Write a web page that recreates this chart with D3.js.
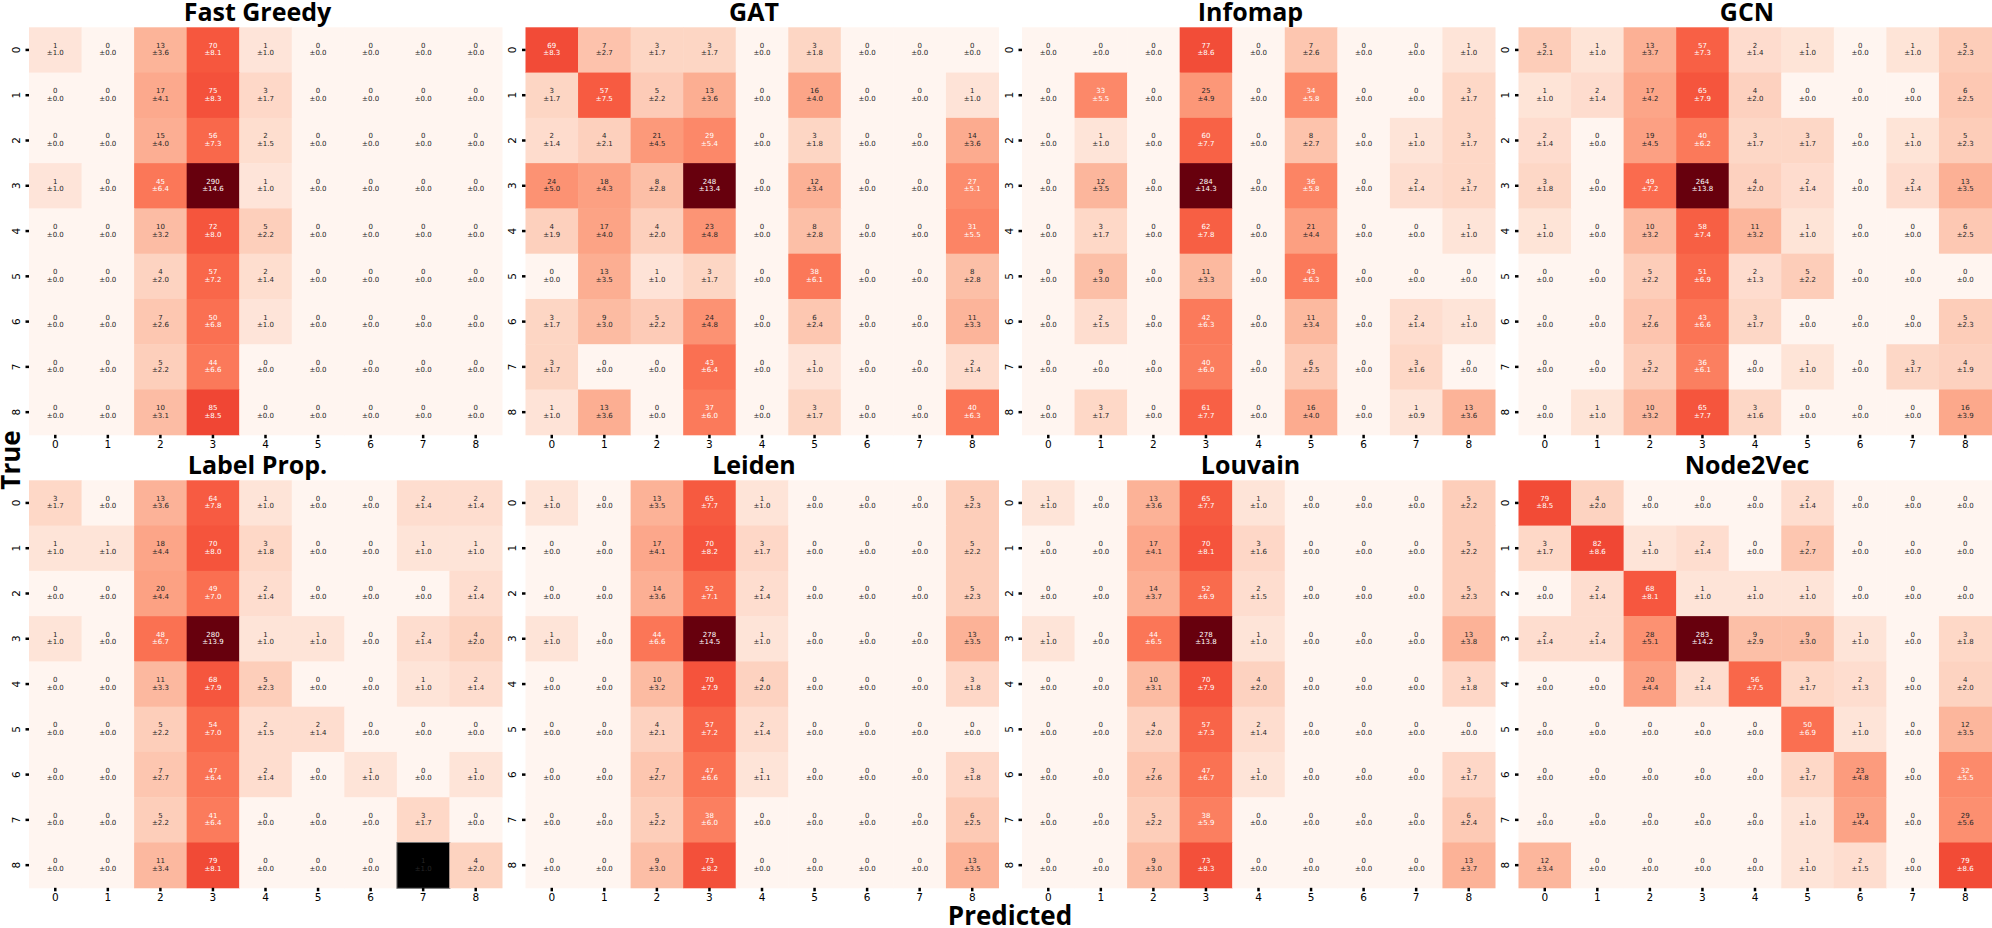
<!DOCTYPE html>
<html>
<head>
<meta charset="utf-8">
<script src="https://cdn.jsdelivr.net/npm/d3@7"></script>
<style>
  body { margin: 0; background: #fff; }
  text { font-family: "DejaVu Sans", sans-serif; }
  .title, .axis-title { font-family: "Open Sans", "Noto Sans", sans-serif; font-weight: bold; }
</style>
</head>
<body>
<svg id="chart"></svg>
<script>

// class labels on both axes
const classes = [0, 1, 2, 3, 4, 5, 6, 7, 8];
const methodNames = ['Fast Greedy', 'GAT', 'Infomap', 'GCN', 'Label Prop.', 'Leiden', 'Louvain', 'Node2Vec'];

const fastGreedyMean = [
  [1, 0, 13, 70, 1, 0, 0, 0, 0],
  [0, 0, 17, 75, 3, 0, 0, 0, 0],
  [0, 0, 15, 56, 2, 0, 0, 0, 0],
  [1, 0, 45, 290, 1, 0, 0, 0, 0],
  [0, 0, 10, 72, 5, 0, 0, 0, 0],
  [0, 0, 4, 57, 2, 0, 0, 0, 0],
  [0, 0, 7, 50, 1, 0, 0, 0, 0],
  [0, 0, 5, 44, 0, 0, 0, 0, 0],
  [0, 0, 10, 85, 0, 0, 0, 0, 0]
];
const fastGreedyStd = [
  [1.0, 0, 3.6, 8.1, 1.0, 0, 0, 0, 0],
  [0, 0, 4.1, 8.3, 1.7, 0, 0, 0, 0],
  [0, 0, 4.0, 7.3, 1.5, 0, 0, 0, 0],
  [1.0, 0, 6.4, 14.6, 1.0, 0, 0, 0, 0],
  [0, 0, 3.2, 8.0, 2.2, 0, 0, 0, 0],
  [0, 0, 2.0, 7.2, 1.4, 0, 0, 0, 0],
  [0, 0, 2.6, 6.8, 1.0, 0, 0, 0, 0],
  [0, 0, 2.2, 6.6, 0, 0, 0, 0, 0],
  [0, 0, 3.1, 8.5, 0, 0, 0, 0, 0]
];

const gatMean = [
  [69, 7, 3, 3, 0, 3, 0, 0, 0],
  [3, 57, 5, 13, 0, 16, 0, 0, 1],
  [2, 4, 21, 29, 0, 3, 0, 0, 14],
  [24, 18, 8, 248, 0, 12, 0, 0, 27],
  [4, 17, 4, 23, 0, 8, 0, 0, 31],
  [0, 13, 1, 3, 0, 38, 0, 0, 8],
  [3, 9, 5, 24, 0, 6, 0, 0, 11],
  [3, 0, 0, 43, 0, 1, 0, 0, 2],
  [1, 13, 0, 37, 0, 3, 0, 0, 40]
];
const gatStd = [
  [8.3, 2.7, 1.7, 1.7, 0, 1.8, 0, 0, 0],
  [1.7, 7.5, 2.2, 3.6, 0, 4.0, 0, 0, 1.0],
  [1.4, 2.1, 4.5, 5.4, 0, 1.8, 0, 0, 3.6],
  [5.0, 4.3, 2.8, 13.4, 0, 3.4, 0, 0, 5.1],
  [1.9, 4.0, 2.0, 4.8, 0, 2.8, 0, 0, 5.5],
  [0, 3.5, 1.0, 1.7, 0, 6.1, 0, 0, 2.8],
  [1.7, 3.0, 2.2, 4.8, 0, 2.4, 0, 0, 3.3],
  [1.7, 0, 0, 6.4, 0, 1.0, 0, 0, 1.4],
  [1.0, 3.6, 0, 6.0, 0, 1.7, 0, 0, 6.3]
];

const infomapMean = [
  [0, 0, 0, 77, 0, 7, 0, 0, 1],
  [0, 33, 0, 25, 0, 34, 0, 0, 3],
  [0, 1, 0, 60, 0, 8, 0, 1, 3],
  [0, 12, 0, 284, 0, 36, 0, 2, 3],
  [0, 3, 0, 62, 0, 21, 0, 0, 1],
  [0, 9, 0, 11, 0, 43, 0, 0, 0],
  [0, 2, 0, 42, 0, 11, 0, 2, 1],
  [0, 0, 0, 40, 0, 6, 0, 3, 0],
  [0, 3, 0, 61, 0, 16, 0, 1, 13]
];
const infomapStd = [
  [0, 0, 0, 8.6, 0, 2.6, 0, 0, 1.0],
  [0, 5.5, 0, 4.9, 0, 5.8, 0, 0, 1.7],
  [0, 1.0, 0, 7.7, 0, 2.7, 0, 1.0, 1.7],
  [0, 3.5, 0, 14.3, 0, 5.8, 0, 1.4, 1.7],
  [0, 1.7, 0, 7.8, 0, 4.4, 0, 0, 1.0],
  [0, 3.0, 0, 3.3, 0, 6.3, 0, 0, 0],
  [0, 1.5, 0, 6.3, 0, 3.4, 0, 1.4, 1.0],
  [0, 0, 0, 6.0, 0, 2.5, 0, 1.6, 0],
  [0, 1.7, 0, 7.7, 0, 4.0, 0, 0.9, 3.6]
];

const gcnMean = [
  [5, 1, 13, 57, 2, 1, 0, 1, 5],
  [1, 2, 17, 65, 4, 0, 0, 0, 6],
  [2, 0, 19, 40, 3, 3, 0, 1, 5],
  [3, 0, 49, 264, 4, 2, 0, 2, 13],
  [1, 0, 10, 58, 11, 1, 0, 0, 6],
  [0, 0, 5, 51, 2, 5, 0, 0, 0],
  [0, 0, 7, 43, 3, 0, 0, 0, 5],
  [0, 0, 5, 36, 0, 1, 0, 3, 4],
  [0, 1, 10, 65, 3, 0, 0, 0, 16]
];
const gcnStd = [
  [2.1, 1.0, 3.7, 7.3, 1.4, 1.0, 0, 1.0, 2.3],
  [1.0, 1.4, 4.2, 7.9, 2.0, 0, 0, 0, 2.5],
  [1.4, 0, 4.5, 6.2, 1.7, 1.7, 0, 1.0, 2.3],
  [1.8, 0, 7.2, 13.8, 2.0, 1.4, 0, 1.4, 3.5],
  [1.0, 0, 3.2, 7.4, 3.2, 1.0, 0, 0, 2.5],
  [0, 0, 2.2, 6.9, 1.3, 2.2, 0, 0, 0],
  [0, 0, 2.6, 6.6, 1.7, 0, 0, 0, 2.3],
  [0, 0, 2.2, 6.1, 0, 1.0, 0, 1.7, 1.9],
  [0, 1.0, 3.2, 7.7, 1.6, 0, 0, 0, 3.9]
];

const labelPropMean = [
  [3, 0, 13, 64, 1, 0, 0, 2, 2],
  [1, 1, 18, 70, 3, 0, 0, 1, 1],
  [0, 0, 20, 49, 2, 0, 0, 0, 2],
  [1, 0, 48, 280, 1, 1, 0, 2, 4],
  [0, 0, 11, 68, 5, 0, 0, 1, 2],
  [0, 0, 5, 54, 2, 2, 0, 0, 0],
  [0, 0, 7, 47, 2, 0, 1, 0, 1],
  [0, 0, 5, 41, 0, 0, 0, 3, 0],
  [0, 0, 11, 79, 0, 0, 0, 1, 4]
];
const labelPropStd = [
  [1.7, 0, 3.6, 7.8, 1.0, 0, 0, 1.4, 1.4],
  [1.0, 1.0, 4.4, 8.0, 1.8, 0, 0, 1.0, 1.0],
  [0, 0, 4.4, 7.0, 1.4, 0, 0, 0, 1.4],
  [1.0, 0, 6.7, 13.9, 1.0, 1.0, 0, 1.4, 2.0],
  [0, 0, 3.3, 7.9, 2.3, 0, 0, 1.0, 1.4],
  [0, 0, 2.2, 7.0, 1.5, 1.4, 0, 0, 0],
  [0, 0, 2.7, 6.4, 1.4, 0, 1.0, 0, 1.0],
  [0, 0, 2.2, 6.4, 0, 0, 0, 1.7, 0],
  [0, 0, 3.4, 8.1, 0, 0, 0, 1.0, 2.0]
];
// cell drawn in black in the Label Prop. panel [row, col]
const labelPropBlackCells = [[8, 7]];

const leidenMean = [
  [1, 0, 13, 65, 1, 0, 0, 0, 5],
  [0, 0, 17, 70, 3, 0, 0, 0, 5],
  [0, 0, 14, 52, 2, 0, 0, 0, 5],
  [1, 0, 44, 278, 1, 0, 0, 0, 13],
  [0, 0, 10, 70, 4, 0, 0, 0, 3],
  [0, 0, 4, 57, 2, 0, 0, 0, 0],
  [0, 0, 7, 47, 1, 0, 0, 0, 3],
  [0, 0, 5, 38, 0, 0, 0, 0, 6],
  [0, 0, 9, 73, 0, 0, 0, 0, 13]
];
const leidenStd = [
  [1.0, 0, 3.5, 7.7, 1.0, 0, 0, 0, 2.3],
  [0, 0, 4.1, 8.2, 1.7, 0, 0, 0, 2.2],
  [0, 0, 3.6, 7.1, 1.4, 0, 0, 0, 2.3],
  [1.0, 0, 6.6, 14.5, 1.0, 0, 0, 0, 3.5],
  [0, 0, 3.2, 7.9, 2.0, 0, 0, 0, 1.8],
  [0, 0, 2.1, 7.2, 1.4, 0, 0, 0, 0],
  [0, 0, 2.7, 6.6, 1.1, 0, 0, 0, 1.8],
  [0, 0, 2.2, 6.0, 0, 0, 0, 0, 2.5],
  [0, 0, 3.0, 8.2, 0, 0, 0, 0, 3.5]
];

const louvainMean = [
  [1, 0, 13, 65, 1, 0, 0, 0, 5],
  [0, 0, 17, 70, 3, 0, 0, 0, 5],
  [0, 0, 14, 52, 2, 0, 0, 0, 5],
  [1, 0, 44, 278, 1, 0, 0, 0, 13],
  [0, 0, 10, 70, 4, 0, 0, 0, 3],
  [0, 0, 4, 57, 2, 0, 0, 0, 0],
  [0, 0, 7, 47, 1, 0, 0, 0, 3],
  [0, 0, 5, 38, 0, 0, 0, 0, 6],
  [0, 0, 9, 73, 0, 0, 0, 0, 13]
];
const louvainStd = [
  [1.0, 0, 3.6, 7.7, 1.0, 0, 0, 0, 2.2],
  [0, 0, 4.1, 8.1, 1.6, 0, 0, 0, 2.2],
  [0, 0, 3.7, 6.9, 1.5, 0, 0, 0, 2.3],
  [1.0, 0, 6.5, 13.8, 1.0, 0, 0, 0, 3.8],
  [0, 0, 3.1, 7.9, 2.0, 0, 0, 0, 1.8],
  [0, 0, 2.0, 7.3, 1.4, 0, 0, 0, 0],
  [0, 0, 2.6, 6.7, 1.0, 0, 0, 0, 1.7],
  [0, 0, 2.2, 5.9, 0, 0, 0, 0, 2.4],
  [0, 0, 3.0, 8.3, 0, 0, 0, 0, 3.7]
];

const node2vecMean = [
  [79, 4, 0, 0, 0, 2, 0, 0, 0],
  [3, 82, 1, 2, 0, 7, 0, 0, 0],
  [0, 2, 68, 1, 1, 1, 0, 0, 0],
  [2, 2, 28, 283, 9, 9, 1, 0, 3],
  [0, 0, 20, 2, 56, 3, 2, 0, 4],
  [0, 0, 0, 0, 0, 50, 1, 0, 12],
  [0, 0, 0, 0, 0, 3, 23, 0, 32],
  [0, 0, 0, 0, 0, 1, 19, 0, 29],
  [12, 0, 0, 0, 0, 1, 2, 0, 79]
];
const node2vecStd = [
  [8.5, 2.0, 0, 0, 0, 1.4, 0, 0, 0],
  [1.7, 8.6, 1.0, 1.4, 0, 2.7, 0, 0, 0],
  [0, 1.4, 8.1, 1.0, 1.0, 1.0, 0, 0, 0],
  [1.4, 1.4, 5.1, 14.2, 2.9, 3.0, 1.0, 0, 1.8],
  [0, 0, 4.4, 1.4, 7.5, 1.7, 1.3, 0, 2.0],
  [0, 0, 0, 0, 0, 6.9, 1.0, 0, 3.5],
  [0, 0, 0, 0, 0, 1.7, 4.8, 0, 5.5],
  [0, 0, 0, 0, 0, 1.0, 4.4, 0, 5.6],
  [3.4, 0, 0, 0, 0, 1.0, 1.5, 0, 8.6]
];

const panels = [
  { name: methodNames[0], mean: fastGreedyMean, std: fastGreedyStd, black: [] },
  { name: methodNames[1], mean: gatMean, std: gatStd, black: [] },
  { name: methodNames[2], mean: infomapMean, std: infomapStd, black: [] },
  { name: methodNames[3], mean: gcnMean, std: gcnStd, black: [] },
  { name: methodNames[4], mean: labelPropMean, std: labelPropStd, black: labelPropBlackCells },
  { name: methodNames[5], mean: leidenMean, std: leidenStd, black: [] },
  { name: methodNames[6], mean: louvainMean, std: louvainStd, black: [] },
  { name: methodNames[7], mean: node2vecMean, std: node2vecStd, black: [] }
];

const width = 1992, height = 928;
const colX = [29, 525.5, 1022, 1518.5];
const rowY = [27.3, 480.3];
const mapW = 473, mapH = 407.5;

const svg = d3.select('#chart')
  .attr('width', width)
  .attr('height', height);

// seaborn style: light text on dark cells
function textColor(c) {
  const rgb = d3.rgb(c);
  const lin = v => { v = v / 255; return v <= 0.03928 ? v / 12.92 : Math.pow((v + 0.055) / 1.055, 2.4); };
  const lum = 0.2126 * lin(rgb.r) + 0.7152 * lin(rgb.g) + 0.0722 * lin(rgb.b);
  return lum > 0.408 ? '#262626' : '#ffffff';
}

panels.forEach((p, i) => {
  const x0 = colX[i % 4];
  const y0 = rowY[Math.floor(i / 4)];

  const x = d3.scaleBand().domain(classes).range([x0, x0 + mapW]);
  const y = d3.scaleBand().domain(classes).range([y0, y0 + mapH]);

  const vmax = d3.max(p.mean.flat());
  const color = d3.scaleSequentialPow(d3.interpolateReds).exponent(0.42).domain([0, vmax]);

  const cells = [];
  p.mean.forEach((row, r) => row.forEach((v, c) => {
    const isBlack = p.black.some(b => b[0] === r && b[1] === c);
    cells.push({ r, c, v, s: p.std[r][c], black: isBlack });
  }));

  const g = svg.append('g');

  g.selectAll('rect')
    .data(cells)
    .enter()
    .append('rect')
    .attr('x', d => x(d.c))
    .attr('y', d => y(d.r))
    .attr('width', x.bandwidth() + 0.5)
    .attr('height', y.bandwidth() + 0.5)
    .attr('fill', d => d.black ? '#000' : color(d.v))
    .attr('stroke', d => d.black ? '#777' : 'none')
    .attr('stroke-width', 1);

  const labels = g.selectAll('.cell-label')
    .data(cells)
    .enter()
    .append('text')
    .attr('class', 'cell-label')
    .attr('x', d => x(d.c) + x.bandwidth() / 2)
    .attr('text-anchor', 'middle')
    .attr('font-size', '7px')
    .attr('fill', d => d.black ? '#262626' : textColor(color(d.v)));

  labels.append('tspan')
    .attr('x', d => x(d.c) + x.bandwidth() / 2)
    .attr('y', d => y(d.r) + y.bandwidth() / 2 - 2)
    .text(d => d.v);
  labels.append('tspan')
    .attr('x', d => x(d.c) + x.bandwidth() / 2)
    .attr('y', d => y(d.r) + y.bandwidth() / 2 + 5.5)
    .text(d => '±' + d.s.toFixed(1));

  // axes
  const xAxis = g.append('g')
    .attr('transform', `translate(0, ${y0 + mapH})`)
    .call(d3.axisBottom(x).tickSize(3.5).tickPadding(2));
  const yAxis = g.append('g')
    .attr('transform', `translate(${x0}, 0)`)
    .call(d3.axisLeft(y).tickSize(3.5).tickPadding(2));

  [xAxis, yAxis].forEach(a => {
    a.select('.domain').remove();
    a.selectAll('line').attr('stroke', '#000').attr('stroke-width', 2.5);
    a.selectAll('text').attr('font-size', '10.5px').attr('fill', '#000')
      .style('font-family', '"DejaVu Sans", sans-serif');
  });
  yAxis.selectAll('text')
    .attr('x', null).attr('dy', null)
    .attr('text-anchor', 'middle')
    .attr('transform', 'translate(-13, 0) rotate(-90)')
    .attr('dy', '0.35em');

  g.append('text')
    .attr('class', 'title')
    .attr('x', x0 + mapW / 2 - 8)
    .attr('y', y0 - 6.5)
    .attr('text-anchor', 'middle')
    .attr('font-size', '25px')
    .text(p.name);
});

svg.append('text')
  .attr('class', 'axis-title')
  .attr('transform', 'translate(20, 460) rotate(-90)')
  .attr('text-anchor', 'middle')
  .attr('font-size', '26px')
  .text('True');

svg.append('text')
  .attr('class', 'axis-title')
  .attr('x', 1010)
  .attr('y', 925)
  .attr('text-anchor', 'middle')
  .attr('font-size', '26px')
  .text('Predicted');

</script>
</body>
</html>
